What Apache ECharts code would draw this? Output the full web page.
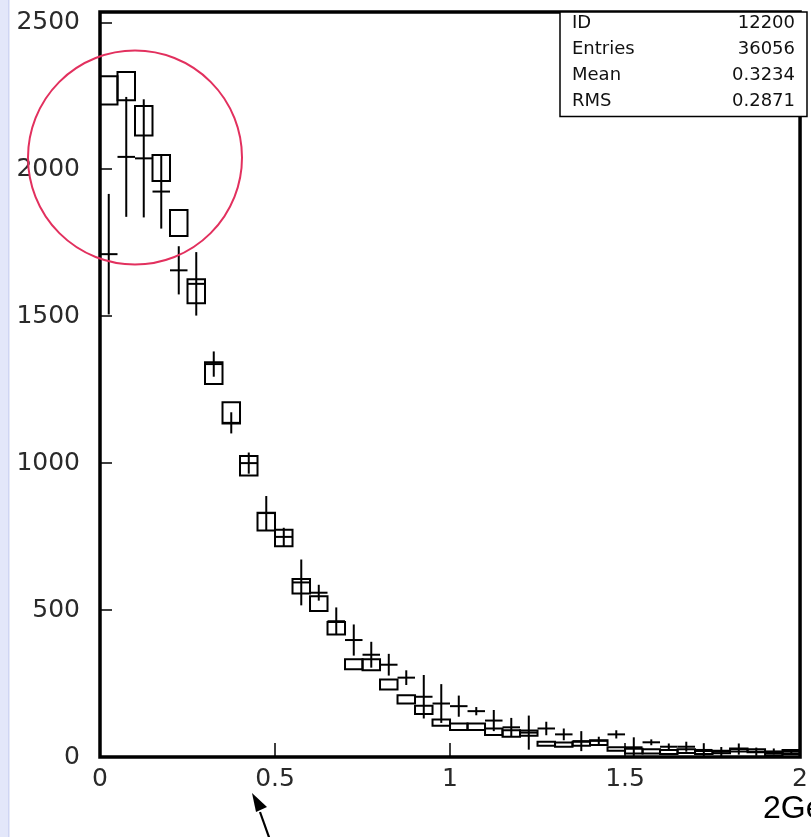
<!DOCTYPE html>
<html>
<head>
<meta charset="utf-8">
<script src="https://cdn.jsdelivr.net/npm/echarts@6/dist/echarts.min.js"></script>
<style>
html,body{margin:0;padding:0;background:#fff;}
#main{width:811px;height:837px;}
</style>
</head>
<body>
<div id="main"></div>
<script>
// ---- data ----
const binStart = 0;
const binWidth = 0.05;
const mcValues  = [2268, 2283, 2165, 2004, 1817, 1585, 1306, 1171, 991, 801, 745, 581, 522, 438, 316, 314, 247, 196, 160, 117, 103, 103, 86, 80, 81, 45, 42, 45, 49, 27, 20, 19, 17, 20, 15, 17, 24, 21, 10, 17];
const mcErrors  = [48, 48, 50, 44, 44, 41, 37, 36, 33, 30, 28, 25, 25, 21, 17, 19, 17, 14, 14, 11, 11, 11, 11, 11, 9, 7, 7, 7, 8, 6, 8, 7, 7, 6, 5, 4, 5, 5, 4, 7];
const dataValues = [1711, 2042, 2037, 1924, 1656, 1610, 1337, 1137, 1000, 830, 749, 594, 559, 462, 398, 348, 314, 270, 205, 182, 173, 156, 124, 101, 83, 97, 77, 54, 55, 77, 33, 50, 35, 35, 24, 18, 27, 18, 19, 18];
const dataErrors = [205, 204, 201, 126, 82, 108, 43, 36, 36, 58, 31, 78, 27, 47, 53, 44, 37, 25, 74, 66, 36, 14, 36, 32, 58, 23, 20, 34, 14, 14, 34, 10, 11, 17, 23, 16, 19, 14, 10, 7];
const xTicks = [0, 0.5, 1, 1.5, 2];
const yTicks = [0, 500, 1000, 1500, 2000, 2500];
const statsLabels = ['ID', 'Entries', 'Mean', 'RMS'];
const statsValues = ['12200', '36056', '0.3234', '0.2871'];
const xTitle = '2GeV';

const mcData = mcValues.map((v, i) => [binStart + i * binWidth, binStart + (i + 1) * binWidth, v, mcErrors[i]]);
const crossData = dataValues.map((v, i) => [binStart + i * binWidth, binStart + (i + 1) * binWidth, v, dataErrors[i]]);

const chart = echarts.init(document.getElementById('main'), null, {renderer: 'canvas'});

function boxItem(params, api) {
  const x0 = api.value(0), x1 = api.value(1), v = api.value(2), e = api.value(3);
  const p0 = api.coord([x0, v + e]);
  const p1 = api.coord([x1, v - e]);
  const cs = params.coordSys;
  const shape = echarts.graphic.clipRectByRect(
    {x: p0[0], y: p0[1], width: p1[0] - p0[0], height: p1[1] - p0[1]},
    {x: cs.x, y: cs.y, width: cs.width, height: cs.height});
  if (!shape) return;
  return {type: 'rect', shape: shape, style: {fill: 'none', stroke: '#000', lineWidth: 2}};
}

function crossItem(params, api) {
  const x0 = api.value(0), x1 = api.value(1), v = api.value(2), e = api.value(3);
  const xm = (x0 + x1) / 2;
  const cs = params.coordSys;
  const bottom = cs.y + cs.height;
  const pl = api.coord([x0, v]);
  const pr = api.coord([x1, v]);
  const pt = api.coord([xm, v + e]);
  const pb = api.coord([xm, v - e]);
  return {
    type: 'group',
    children: [
      {type: 'line', shape: {x1: pl[0], y1: pl[1], x2: pr[0], y2: pr[1]}, style: {stroke: '#000', lineWidth: 2}},
      {type: 'line', shape: {x1: pt[0], y1: pt[1], x2: pb[0], y2: Math.min(pb[1], bottom)}, style: {stroke: '#000', lineWidth: 2}}
    ]
  };
}

const labelFont = {fontFamily: 'DejaVu Sans', fontSize: 25, color: '#2a2a2a'};

const statsGraphics = [];
statsLabels.forEach((t, i) => {
  statsGraphics.push({type: 'text', left: 572, top: 14 + i * 26.2, z: 20,
    style: {text: t, font: '18px "DejaVu Sans"', fill: '#111'}});
  statsGraphics.push({type: 'text', right: 16, top: 14 + i * 26.2, z: 20,
    style: {text: statsValues[i], font: '18px "DejaVu Sans"', fill: '#111', textAlign: 'right'}});
});

chart.setOption({
  animation: false,
  backgroundColor: '#ffffff',
  grid: {left: 100, right: 4, top: 12, bottom: 80, show: true, borderColor: '#000', borderWidth: 3.5, backgroundColor: 'transparent', z: 10},
  xAxis: {
    type: 'value', min: 0, max: 2, interval: 0.5,
    axisLine: {show: false},
    axisTick: {show: true, inside: true, length: 14, lineStyle: {color: '#000', width: 1.5}},
    splitLine: {show: false},
    axisLabel: Object.assign({margin: 10, formatter: v => (xTicks.indexOf(v) >= 0 ? String(v) : '')}, labelFont)
  },
  yAxis: {
    type: 'value', min: 0, max: 2535, interval: 500,
    axisLine: {show: false},
    axisTick: {show: true, inside: true, length: 12, lineStyle: {color: '#000', width: 1.5}},
    splitLine: {show: false},
    axisLabel: Object.assign({margin: 20, formatter: v => (yTicks.indexOf(v) >= 0 ? String(v) : '')}, labelFont)
  },
  series: [
    {type: 'custom', name: 'MC', renderItem: boxItem, data: mcData, encode: {x: [0, 1], y: 2}, clip: true, z: 3},
    {type: 'custom', name: 'Data', renderItem: crossItem, data: crossData, encode: {x: [0, 1], y: 2}, clip: true, z: 4}
  ],
  graphic: [
    {type: 'rect', shape: {x: 0, y: 0, width: 9, height: 837}, style: {fill: '#e3e7fa'}, z: 1},
    {type: 'rect', shape: {x: 8, y: 0, width: 1.5, height: 837}, style: {fill: '#cfd5f3'}, z: 1},
    {type: 'rect', shape: {x: 560, y: 12, width: 247, height: 104.5}, style: {fill: '#fff', stroke: '#000', lineWidth: 1.5}, z: 15},
    ...statsGraphics,
    {type: 'circle', shape: {cx: 135, cy: 157.5, r: 107}, style: {fill: 'none', stroke: '#e2305e', lineWidth: 2}, z: 30},
    {type: 'line', shape: {x1: 260, y1: 812, x2: 270, y2: 840}, style: {stroke: '#000', lineWidth: 2.2}, z: 30},
    {type: 'polygon', shape: {points: [[252, 793], [267, 807], [256, 812]]}, style: {fill: '#000'}, z: 30},
    {type: 'text', left: 763, top: 793, z: 30, style: {text: xTitle, font: '32px "Liberation Sans"', fill: '#000'}}
  ]
});
</script>
</body>
</html>
